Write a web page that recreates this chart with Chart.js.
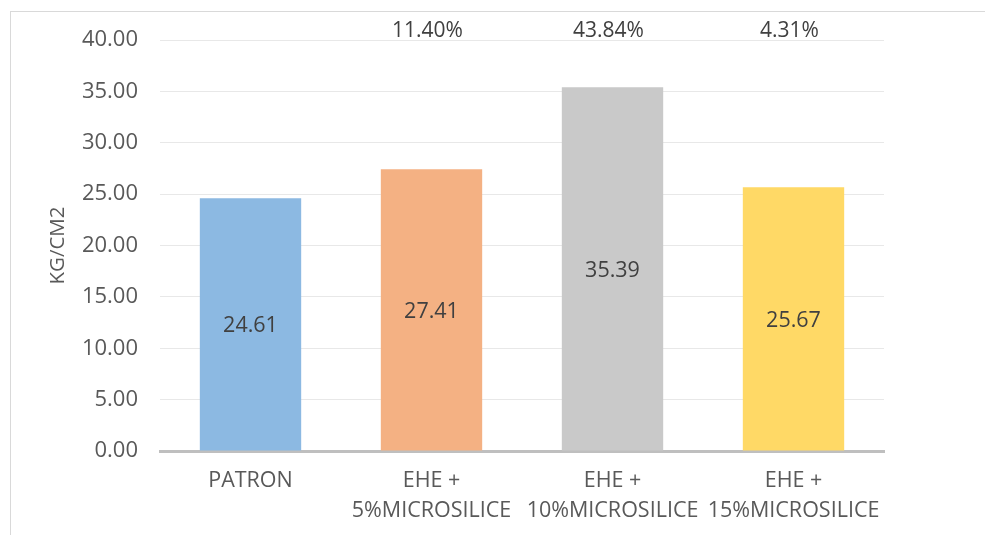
<!DOCTYPE html>
<html>
<head>
<meta charset="utf-8">
<script src="https://cdn.jsdelivr.net/npm/chart.js@4/dist/chart.umd.min.js"></script>
<style>
  html, body { margin: 0; padding: 0; background: #fff; }
  #wrap { position: relative; width: 985px; height: 535px; }
  #frame { position: absolute; left: 10px; top: 11px; right: 0; bottom: 0; border-left: 1px solid #d9d9d9; border-top: 1px solid #d9d9d9; pointer-events: none; }
</style>
</head>
<body>
<div id="wrap">
  <canvas id="c"></canvas>
  <div id="frame"></div>
</div>
<script>
const categories = [["PATRON"], ["EHE +", "5%MICROSILICE"], ["EHE +", "10%MICROSILICE"], ["EHE +", "15%MICROSILICE"]];
const values = [24.61, 27.41, 35.39, 25.67];
const changeLabels = ["", "11.40%", "43.84%", "4.31%"];
const barColors = ["#8cb9e2", "#f4b183", "#c9c9c9", "#ffd966"];
const yTicks = { min: 0, max: 40, step: 5 };
const yTitle = "KG/CM2";

const FONT = "'Open Sans', 'Noto Sans', sans-serif";

const labelPlugin = {
  id: 'labels',
  afterDatasetsDraw(chart) {
    const ctx = chart.ctx;
    const meta = chart.getDatasetMeta(0);
    ctx.save();
    ctx.font = "21.5px " + FONT;
    ctx.fillStyle = "#404040";
    ctx.textAlign = "center";
    ctx.textBaseline = "middle";
    meta.data.forEach((bar, i) => {
      ctx.fillText(values[i].toFixed(2), bar.x, (bar.y + bar.base) / 2 + 2);
    });
    ctx.font = "21px " + FONT;
    const xs = chart.scales.x;
    changeLabels.forEach((t, i) => {
      if (!t) return;
      ctx.fillText(t, xs.getPixelForValue(i) - 4, chart.chartArea.top - 9);
    });
    ctx.restore();
  }
};

new Chart(document.getElementById('c'), {
  type: 'bar',
  data: {
    labels: categories,
    datasets: [{
      data: values,
      backgroundColor: barColors,
      borderWidth: 0,
      categoryPercentage: 1,
      barPercentage: 0.56
    }]
  },
  options: {
    responsive: true,
    maintainAspectRatio: false,
    animation: false,
    devicePixelRatio: 1,
    layout: { padding: { top: 40, right: 101, left: 0, bottom: 0 } },
    plugins: { legend: { display: false }, tooltip: { enabled: false } },
    scales: {
      x: {
        grid: { display: false, drawTicks: false },
        border: { display: true, color: '#bfbfbf', width: 3 },
        ticks: { color: '#595959', font: { family: FONT, size: 21.5 }, padding: 15, maxRotation: 0, autoSkip: false,
                 font: { family: FONT, size: 21.5, lineHeight: 1.4 } },
        afterFit(s) { s.height = 84; }
      },
      y: {
        min: yTicks.min, max: yTicks.max,
        grid: { color: '#e8e8e8', lineWidth: 1, drawTicks: false },
        border: { display: false },
        ticks: { stepSize: yTicks.step, color: '#595959', font: { family: FONT, size: 22 }, padding: 22,
                 callback: v => Number(v).toFixed(2) },
        title: { display: true, text: yTitle, color: '#595959', font: { family: FONT, size: 20.5 }, padding: { top: 46, bottom: 0 } },
        afterFit(s) { s.width = 160; }
      }
    }
  },
  plugins: [labelPlugin]
});
</script>
</body>
</html>
